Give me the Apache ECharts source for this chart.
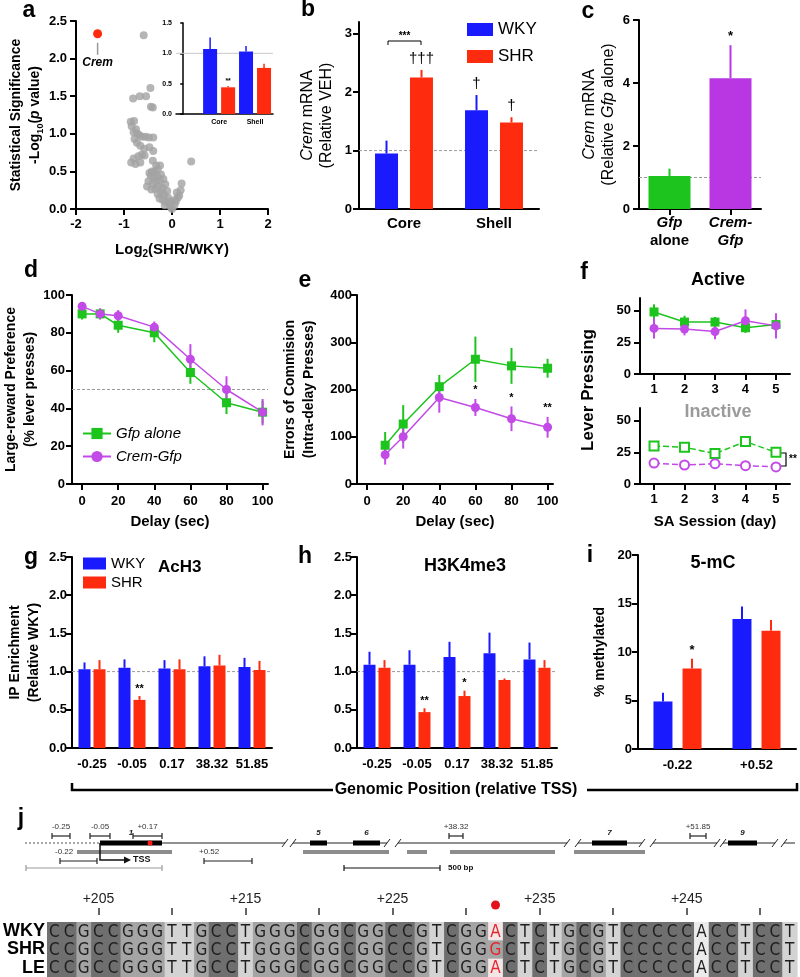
<!DOCTYPE html>
<html>
<head>
<meta charset="utf-8">
<title>Crem figure</title>
<script src="https://cdn.jsdelivr.net/npm/echarts@6.0.0/dist/echarts.min.js"></script>
<style>
  html, body { margin: 0; padding: 0; background: #fff; }
  #chart { width: 800px; height: 977px; }
</style>
</head>
<body>
<div id="chart"></div>
<script>
// ---------- data ----------
// a: volcano plot (log2 fold change, -log10 p)
var volcanoPts = [
  [-0.59,2.31],[-0.45,1.61],[-0.81,1.47],[-0.67,1.50],[-0.54,1.50],[-0.44,1.36],[-0.40,1.35],
  [-0.86,1.16],[-0.79,1.17],[-0.84,1.10],[-0.75,1.06],[-0.80,1.02],[-0.72,1.00],[-0.68,0.98],
  [-0.62,0.96],[-0.55,0.96],[-0.48,0.95],[-0.39,0.95],[-0.78,0.93],[-0.73,0.88],[-0.66,0.84],
  [-0.58,0.80],[-0.47,0.82],[-0.39,0.77],[-0.63,0.72],[-0.57,0.71],[-0.70,0.70],[-0.80,0.67],
  [-0.85,0.62],[-0.76,0.60],[-0.66,0.62],[-0.40,0.64],[0.40,0.63],[-0.33,0.58],[-0.25,0.58],
  [-0.30,0.53],[-0.36,0.50],[-0.42,0.50],[-0.47,0.48],[-0.44,0.44],[-0.38,0.42],[-0.31,0.44],
  [-0.23,0.46],[-0.18,0.40],[-0.26,0.38],[-0.33,0.36],[-0.40,0.34],[-0.49,0.37],[-0.52,0.30],
  [-0.43,0.26],[-0.35,0.27],[-0.28,0.30],[-0.20,0.28],[-0.14,0.33],[-0.22,0.22],[-0.30,0.20],
  [-0.16,0.19],[-0.10,0.24],[-0.08,0.15],[-0.19,0.12],[-0.26,0.14],[-0.12,0.09],[-0.05,0.06],
  [-0.15,0.05],[-0.02,0.02],[0.00,0.00],[0.05,0.05],[0.08,0.10],[0.12,0.15],[0.10,0.22],
  [0.18,0.25],[0.20,0.34],[0.15,0.18],[0.06,0.12],[-0.04,0.10]
];
var cremPt = [-1.55, 2.33];
var insetCats = ['Core', 'Shell'];
var insetWky = [1.07, 1.03], insetWkyErr = [0.19, 0.09];
var insetShr = [0.44, 0.76], insetShrErr = [0.02, 0.07];
var insetShrMarks = ['**', ''];

// b
var regionCats = ['Core', 'Shell'];
var bWky = [0.95, 1.69], bWkyErr = [0.22, 0.26], bWkyMarks = ['', '\u2020'];
var bShr = [2.25, 1.48], bShrErr = [0.13, 0.09], bShrMarks = ['\u2020\u2020\u2020', '\u2020'];

// c
var cCats = ['Gfp alone', 'Crem-Gfp'];
var cVals = [1.05, 4.15], cErr = [0.23, 1.05], cMarks = ['', '*'];

// d
var delayD = [0, 10, 20, 40, 60, 80, 100];
var dGfp = [90, 90, 84, 80, 59, 43, 38], dGfpErr = [3, 2, 4, 5, 6, 6, 6];
var dCrem = [94, 90, 89, 83, 66, 50, 38], dCremErr = [2, 3, 3, 3, 8, 7, 7];

// e
var delayE = [10, 20, 40, 60, 80, 100];
var eGfp = [82, 127, 206, 264, 250, 245], eGfpErr = [28, 40, 25, 48, 38, 20];
var eCrem = [62, 100, 183, 162, 138, 120], eCremErr = [21, 25, 32, 18, 26, 22];
var eMarks = ['', '', '', '*', '*', '**'];

// f
var sessions = [1, 2, 3, 4, 5];
var fActGfp = [49, 41, 41, 36.5, 39], fActGfpErr = [6, 5, 4, 4, 6];
var fActCrem = [36, 35.5, 33.5, 42, 38], fActCremErr = [8, 5, 6, 9, 10];
var fInGfp = [30, 29, 24, 33.5, 25], fInGfpErr = [2, 2, 2, 2, 3];
var fInCrem = [16.5, 15, 16, 14.5, 13.5], fInCremErr = [1.5, 1.5, 1.5, 1.5, 1.5];

// g, h: ChIP
var posCats = ['-0.25', '-0.05', '0.17', '38.32', '51.85'];
var gWky = [1.03, 1.05, 1.04, 1.07, 1.06], gWkyErr = [0.09, 0.11, 0.11, 0.13, 0.12];
var gShr = [1.03, 0.63, 1.03, 1.08, 1.02], gShrErr = [0.12, 0.05, 0.13, 0.14, 0.12];
var gShrMarks = ['', '**', '', '', ''];
var hWky = [1.09, 1.09, 1.19, 1.24, 1.16], hWkyErr = [0.17, 0.19, 0.2, 0.27, 0.22];
var hShr = [1.05, 0.47, 0.68, 0.89, 1.05], hShrErr = [0.1, 0.05, 0.07, 0.02, 0.1];
var hShrMarks = ['', '**', '*', '', ''];

// i: methylation
var mePos = ['-0.22', '+0.52'];
var iWky = [4.9, 13.4], iWkyErr = [0.9, 1.3];
var iShr = [8.3, 12.2], iShrErr = [1.0, 1.1], iShrMarks = ['*', ''];

// j: gene map (schematic units) and sequence alignment
var upstreamSpan = [[25, 100]];
var intronSpans = [[100, 285], [293, 387], [398, 567], [578, 642], [653, 717], [723, 775], [784, 795]];
var breakMarks = [[285, 293], [387, 398], [567, 578], [642, 653], [717, 723], [775, 784]];
var exonSpans = [[100, 162], [310, 327], [353, 380], [592, 627], [728, 757]];
var exonNames = ['1', '5', '6', '7', '9'];
var ampUp = [[52, 70], [90, 110], [133, 162], [449, 463], [690, 706]];
var ampUpNames = ['-0.25', '-0.05', '+0.17', '+38.32', '+51.85'];
var ampDown = [[60, 97], [204, 252]];
var ampDownNames = ['-0.22', '+0.52'];
var grayBars = [[77, 172], [303, 389], [407, 427], [450, 555], [574, 645]];
var snpMark = [[150, 0]];
var tssMark = [[100, 0]];
var spanLine = [[26, 162]];
var scaleBar = [[344, 440]];

var seqNames = ['WKY', 'SHR', 'LE'];
var seqRows = [
  'CCGCCGGGTTGCCTGGGCGGCGGCCGTCGGACTCTGCGTCCCCCACCTCCT',
  'CCGCCGGGTTGCCTGGGCGGCGGCCGTCGGGCTCTGCGTCCCCCACCTCCT',
  'CCGCCGGGTTGCCTGGGCGGCGGCCGTCGGACTCTGCGTCCCCCACCTCCT'
];
var seqStart = 202, snpIndex = 30;

// ---------- styles ----------
var FONT = '"Liberation Sans", Arial, sans-serif';
var NARROW = '"Liberation Sans Narrow", "DejaVu Sans Condensed", sans-serif';
var BLUE = '#1a1aff', RED = '#ff2b0f', GREEN = '#1dc41d', PURPLE = '#c24ae6', BARPURPLE = '#b936e3';
var AX = { show: true, onZero: false, lineStyle: { color: '#000', width: 2 } };

function idx(a) { return a.map(function (v, i) { return i; }); }
function pairs(xs, ys) { return xs.map(function (x, i) { return [x, ys[i]]; }); }

function nameStyle(size, weight) {
  return {
    color: '#000', fontWeight: weight, fontSize: size, fontFamily: FONT, lineHeight: 19,
    rich: {
      i: { fontStyle: 'italic', fontWeight: weight, fontSize: size, fontFamily: FONT, color: '#000', lineHeight: 19 },
      s: { fontWeight: weight, fontSize: Math.round(size * 0.65), fontFamily: FONT, color: '#000', lineHeight: 12, verticalAlign: 'bottom' }
    }
  };
}

function vAxis(o) {
  var ax = {
    type: 'value', gridIndex: o.grid, min: o.min, max: o.max,
    axisLine: AX, splitLine: { show: false },
    axisTick: { show: true, length: 6, lineStyle: { color: '#000', width: 2 } },
    axisLabel: { color: '#000', fontWeight: 'bold', fontSize: 13, fontFamily: FONT, margin: o.margin }
  };
  if (o.interval != null) ax.interval = o.interval;
  if (o.fmt) ax.axisLabel.formatter = o.fmt;
  if (o.custom) { ax.axisLabel.customValues = o.custom; ax.axisTick.customValues = o.custom; }
  if (o.name) { ax.name = o.name; ax.nameLocation = 'middle'; ax.nameGap = o.gap; ax.nameTextStyle = o.ns; }
  return ax;
}

function cAxis(o) {
  var ax = {
    type: 'category', gridIndex: o.grid, data: o.data, axisLine: AX,
    axisTick: { show: !!o.ticks, alignWithLabel: true, length: 6, lineStyle: { color: '#000', width: 2 } },
    axisLabel: { color: '#000', fontWeight: 'bold', fontSize: o.size || 13, fontFamily: FONT, margin: o.margin, interval: 0 }
  };
  if (o.fmt) ax.axisLabel.formatter = o.fmt;
  if (o.rich) ax.axisLabel.rich = o.rich;
  return ax;
}

function fixed1(v) { return v.toFixed(1); }

// error bars (+ optional significance marks) through the axis scales
function errBars(ax, xs, vals, errs, color, dx, both, marks, markFont, markGap) {
  return {
    type: 'custom', xAxisIndex: ax, yAxisIndex: ax, z: 4, silent: true,
    data: vals.map(function (v, i) { return [xs[i], v, errs[i]]; }),
    renderItem: function (p, api) {
      var x = api.value(0), v = api.value(1), e = api.value(2);
      var mid = api.coord([x, v]), top = api.coord([x, v + e]), bot = api.coord([x, both ? v - e : v]);
      var cx = mid[0] + dx;
      var kids = [{ type: 'line', shape: { x1: cx, y1: top[1], x2: cx, y2: bot[1] }, style: { stroke: color, lineWidth: 2 } }];
      var m = marks && marks[p.dataIndex];
      if (m) {
        kids.push({ type: 'text', style: { text: m, x: cx, y: top[1] - (markGap == null ? 3 : markGap), align: 'center', verticalAlign: 'bottom', font: markFont || ('bold 11px ' + FONT), fill: '#000' } });
      }
      return { type: 'group', children: kids };
    }
  };
}

function refLine(ax, xref, val, color, dashed, z) {
  return {
    type: 'custom', xAxisIndex: ax, yAxisIndex: ax, z: z || 1, silent: true, data: [[xref, val]],
    renderItem: function (p, api) {
      var y = api.coord([api.value(0), api.value(1)])[1], cs = p.coordSys;
      return { type: 'line', shape: { x1: cs.x, y1: y, x2: cs.x + cs.width, y2: y }, style: { stroke: color, lineWidth: 1, lineDash: dashed ? [3, 2] : null } };
    }
  };
}

function insetBars(vals, errs, color, dx, marks) {
  return {
    type: 'custom', xAxisIndex: 1, yAxisIndex: 1, z: 3, silent: true,
    data: vals.map(function (v, i) { return [i + 1, v, errs[i]]; }),
    renderItem: function (p, api) {
      var x = api.value(0), v = api.value(1), e = api.value(2);
      var base = api.coord([x, 0]), top = api.coord([x, v]), et = api.coord([x, v + e]);
      var w = 14, cx = base[0] + dx;
      var kids = [
        { type: 'rect', shape: { x: cx - w / 2, y: top[1], width: w, height: base[1] - top[1] }, style: { fill: color } },
        { type: 'line', shape: { x1: cx, y1: top[1], x2: cx, y2: et[1] }, style: { stroke: color, lineWidth: 1.5 } }
      ];
      var m = marks && marks[p.dataIndex];
      if (m) kids.push({ type: 'text', style: { text: m, x: cx, y: et[1] - 2, align: 'center', verticalAlign: 'bottom', font: 'bold 7px ' + FONT, fill: '#000' } });
      return { type: 'group', children: kids };
    }
  };
}

function lineSeries(name, ax, xs, ys, color, symbol, dashed) {
  return {
    type: 'line', name: name, xAxisIndex: ax, yAxisIndex: ax, data: pairs(xs, ys), z: 5,
    symbol: symbol, symbolSize: 9,
    itemStyle: { color: color, borderColor: color, borderWidth: dashed ? 1.8 : 0 },
    lineStyle: { color: color, width: 1.5, type: dashed ? 'dashed' : 'solid' }
  };
}

function barSeries(name, ax, vals, color, width, gap) {
  return { type: 'bar', name: name, xAxisIndex: ax, yAxisIndex: ax, data: vals, barWidth: width, barGap: gap, itemStyle: { color: color }, z: 3 };
}

// ---------- gene map helpers ----------
var Y_LINE = 43, Y_AMP = 36, Y_AMPLBL = 27, Y_GRAY = 52, Y_DOWN = 61, Y_DOWNLBL = 52, Y_TSS = 60, Y_SCALE = 68;
function diag(data, draw) {
  return {
    type: 'custom', xAxisIndex: 12, yAxisIndex: 12, silent: true, z: 3, data: data,
    renderItem: function (p, api) { return draw(api, api.value(0), api.value(1), p.dataIndex); }
  };
}
function pt(api, x, y) { return api.coord([x, y]); }
function seg(api, x0, y0, x1, y1, style) {
  var a = pt(api, x0, y0), b = pt(api, x1, y1);
  return { type: 'line', shape: { x1: a[0], y1: a[1], x2: b[0], y2: b[1] }, style: style };
}
function bracket(api, x0, x1, y, color) {
  var st = { stroke: color, lineWidth: 1.2 };
  return [seg(api, x0, y, x1, y, st), seg(api, x0, y - 3, x0, y + 3, st), seg(api, x1, y - 3, x1, y + 3, st)];
}
function txt(api, s, x, y, font, align, fill) {
  var c = pt(api, x, y);
  return { type: 'text', style: { text: s, x: c[0], y: c[1], font: font, align: align || 'center', verticalAlign: 'middle', fill: fill || '#333' } };
}

var seqPos = seqRows[0].split('').map(function (b, i) { return '+' + (seqStart + i); });
var seqCells = [];
seqRows.forEach(function (row, yi) { for (var xi = 0; xi < row.length; xi++) seqCells.push([xi, yi]); });
var baseFill = { C: '#6f6f6f', G: '#a4a4a4', T: '#d3d3d3', A: '#ebebeb' };

// ---------- chart ----------
var chart = echarts.init(document.getElementById('chart'), null, { renderer: 'canvas' });

var G = function (t, x, y, font, fill, align, rot) {
  return { type: 'text', x: x, y: y, rotation: rot || 0, silent: true, style: { text: t, font: font, fill: fill || '#000', align: align || 'center', verticalAlign: 'middle' } };
};
var LET = 'bold 23px ' + FONT, SUB = 'bold 18px ' + FONT;

var option = {
  animation: false,
  backgroundColor: '#fff',
  textStyle: { fontFamily: FONT },
  grid: [
    { left: 76, top: 21, width: 192, height: 188 },   // 0 a
    { left: 176, top: 23, width: 97, height: 91 },    // 1 a inset
    { left: 359, top: 22, width: 180, height: 187 },  // 2 b
    { left: 639, top: 20, width: 122, height: 189 },  // 3 c
    { left: 72, top: 295, width: 196, height: 189 },  // 4 d
    { left: 357, top: 295, width: 196, height: 189 }, // 5 e
    { left: 640, top: 298, width: 150, height: 76 },  // 6 f active
    { left: 640, top: 408, width: 150, height: 76 },  // 7 f inactive
    { left: 72, top: 557, width: 200, height: 191 },  // 8 g
    { left: 357, top: 557, width: 200, height: 191 }, // 9 h
    { left: 638, top: 555, width: 158, height: 194 }, // 10 i
    { left: 44, top: 922, width: 753, height: 55 },   // 11 sequence
    { left: 0, top: 800, width: 800, height: 80 }     // 12 gene map
  ],
  xAxis: [
    vAxis({ grid: 0, min: -2, max: 2, interval: 1, margin: 9, name: 'Log{s|2}(SHR/WKY)', gap: 31, ns: nameStyle(15, 'bold') }),
    { type: 'value', gridIndex: 1, min: -0.2, max: 2.5, splitLine: { show: false },
      axisLine: { show: true, lineStyle: { color: '#000', width: 1.5 } }, axisTick: { show: false },
      axisLabel: { customValues: [1, 2], formatter: function (v) { return insetCats[Math.round(v) - 1]; }, fontSize: 7, fontWeight: 'bold', color: '#000', margin: 5 } },
    cAxis({ grid: 2, data: regionCats, size: 15, margin: 7 }),
    cAxis({ grid: 3, data: cCats, margin: 5, ticks: true,
      fmt: function (v) { return v === 'Gfp alone' ? '{i|Gfp}\n{n|alone}' : '{i|Crem-}\n{i|Gfp}'; },
      rich: { i: { fontStyle: 'italic', fontWeight: 'bold', fontSize: 15, lineHeight: 18, color: '#000', fontFamily: FONT },
              n: { fontWeight: 'bold', fontSize: 15, lineHeight: 18, color: '#000', fontFamily: FONT } } }),
    vAxis({ grid: 4, min: -5.6, max: 103, custom: [0, 20, 40, 60, 80, 100], margin: 11, name: 'Delay (sec)', gap: 28, ns: nameStyle(15, 'bold') }),
    vAxis({ grid: 5, min: -5.6, max: 103, custom: [0, 20, 40, 60, 80, 100], margin: 11, name: 'Delay (sec)', gap: 28, ns: nameStyle(15, 'bold') }),
    vAxis({ grid: 6, min: 0.54, max: 5.46, custom: sessions, margin: 9 }),
    vAxis({ grid: 7, min: 0.54, max: 5.46, custom: sessions, margin: 9, name: 'SA Session (day)', gap: 28, ns: nameStyle(15, 'bold') }),
    cAxis({ grid: 8, data: posCats, margin: 10 }),
    cAxis({ grid: 9, data: posCats, margin: 10 }),
    cAxis({ grid: 10, data: mePos, margin: 10 }),
    { type: 'category', gridIndex: 11, position: 'top', data: seqPos, offset: 7,
      axisLine: { show: false },
      axisTick: { show: true, alignWithLabel: true, length: 7, interval: function (i) { return (i - 3) % 5 === 0; }, lineStyle: { color: '#333', width: 1.5 } },
      axisLabel: { interval: function (i) { return (i - 3) % 10 === 0; }, fontSize: 14, color: '#222', fontFamily: FONT, margin: 9 } },
    { type: 'value', gridIndex: 12, min: 0, max: 800, show: false }
  ],
  yAxis: [
    vAxis({ grid: 0, min: 0, max: 2.5, interval: 0.5, fmt: fixed1, margin: 9, name: 'Statistical Significance\n-Log{s|10}({i|p} value)', gap: 30, ns: nameStyle(14, 'bold') }),
    { type: 'value', gridIndex: 1, min: 0, max: 1.5, interval: 0.5, splitLine: { show: false },
      axisLine: { show: true, lineStyle: { color: '#000', width: 1.5 } },
      axisTick: { show: true, length: 3, lineStyle: { color: '#000', width: 1.5 } },
      axisLabel: { formatter: fixed1, fontSize: 7, fontWeight: 'bold', color: '#000', margin: 4 } },
    vAxis({ grid: 2, min: 0, max: 3.2, custom: [0, 1, 2, 3], margin: 7, name: '{i|Crem} mRNA\n(Relative VEH)', gap: 23, ns: nameStyle(16, 'normal') }),
    vAxis({ grid: 3, min: 0, max: 6, interval: 2, margin: 9, name: '{i|Crem} mRNA\n(Relative {i|Gfp} alone)', gap: 21, ns: nameStyle(16, 'normal') }),
    vAxis({ grid: 4, min: 0, max: 100, interval: 20, margin: 7, name: 'Large-reward Preference\n(% lever presses)', gap: 29, ns: nameStyle(14, 'bold') }),
    vAxis({ grid: 5, min: 0, max: 400, interval: 100, margin: 5, name: 'Errors of Commision\n(Intra-delay Presses)', gap: 38, ns: nameStyle(14, 'bold') }),
    vAxis({ grid: 6, min: 0, max: 60, custom: [0, 25, 50], margin: 9 }),
    vAxis({ grid: 7, min: 0, max: 60, custom: [0, 25, 50], margin: 9 }),
    vAxis({ grid: 8, min: 0, max: 2.5, interval: 0.5, fmt: fixed1, margin: 5, name: 'IP Enrichment\n(Relative WKY)', gap: 28, ns: nameStyle(14, 'bold') }),
    vAxis({ grid: 9, min: 0, max: 2.5, interval: 0.5, fmt: fixed1, margin: 5 }),
    vAxis({ grid: 10, min: 0, max: 20, interval: 5, margin: 6, name: '% methylated', gap: 28, ns: nameStyle(14, 'bold') }),
    { type: 'category', gridIndex: 11, data: seqNames, inverse: true,
      axisLine: { show: false }, axisTick: { show: false },
      axisLabel: { interval: 0, fontSize: 18, fontWeight: 'bold', color: '#000', fontFamily: FONT, margin: 2 } },
    { type: 'value', gridIndex: 12, min: 0, max: 80, inverse: true, show: false }
  ],
  legend: [
    { data: ['WKY', 'SHR'], left: 467, top: 21, orient: 'vertical', icon: 'rect', itemWidth: 26, itemHeight: 13, itemGap: 10, padding: 0, selectedMode: false,
      textStyle: { fontSize: 17, fontFamily: FONT, color: '#000' } },
    { data: ['WKY', 'SHR'], left: 83, top: 556, orient: 'vertical', icon: 'rect', itemWidth: 23, itemHeight: 12, itemGap: 4, padding: 0, selectedMode: false,
      textStyle: { fontSize: 15, fontFamily: FONT, color: '#000' } },
    { data: ['Gfp alone', 'Crem-Gfp'], left: 82, top: 426, orient: 'vertical', itemWidth: 28, itemHeight: 14, itemGap: 8, padding: 0, selectedMode: false,
      textStyle: { fontSize: 15, fontStyle: 'italic', fontFamily: FONT, color: '#000' } }
  ],
  graphic: [
    G('a', 29, 11, LET), G('b', 308, 10, LET), G('c', 588, 12, LET),
    G('d', 31, 271, LET), G('e', 305, 281, LET), G('f', 584, 273, LET),
    G('g', 31, 558, LET), G('h', 305, 557, LET), G('i', 590, 556, LET), G('j', 21, 819, LET),
    G('Active', 718, 280, SUB), G('Inactive', 718, 412, SUB, '#9b9b9b'),
    G('AcH3', 158, 567, 'bold 17px ' + FONT, '#000', 'left'),
    G('H3K4me3', 465, 566, SUB), G('5-mC', 713, 563, SUB),
    G('Lever Pressing', 588, 390, 'bold 17px ' + FONT, '#000', 'center', Math.PI / 2),
    { type: 'polyline', silent: true, shape: { points: [[388, 45], [388, 41], [421, 41], [421, 45]] }, style: { stroke: '#000', fill: null, lineWidth: 1 } },
    G('***', 404.5, 36, 'bold 10px ' + FONT),
    { type: 'polyline', silent: true, shape: { points: [[781, 453], [786, 453], [786, 466], [781, 466]] }, style: { stroke: '#000', fill: null, lineWidth: 1.2 } },
    G('**', 789, 459, 'bold 10px ' + FONT, '#000', 'left'),
    { type: 'polyline', silent: true, shape: { points: [[72, 783], [72, 790], [333, 790]] }, style: { stroke: '#000', fill: null, lineWidth: 2.5 } },
    { type: 'polyline', silent: true, shape: { points: [[587, 790], [797, 790], [797, 783]] }, style: { stroke: '#000', fill: null, lineWidth: 2.5 } },
    G('Genomic Position (relative TSS)', 456, 790, 'bold 16px ' + FONT)
  ],
  series: [
    // a
    { type: 'scatter', xAxisIndex: 0, yAxisIndex: 0, data: volcanoPts, symbolSize: 8, itemStyle: { color: '#a3a3a3' }, z: 2, silent: true },
    { type: 'custom', xAxisIndex: 0, yAxisIndex: 0, data: [cremPt], z: 3, silent: true,
      renderItem: function (p, api) {
        var c = api.coord([api.value(0), api.value(1)]);
        return { type: 'group', children: [
          { type: 'circle', shape: { cx: c[0], cy: c[1], r: 4.5 }, style: { fill: RED } },
          { type: 'line', shape: { x1: c[0], y1: c[1] + 9, x2: c[0], y2: c[1] + 21 }, style: { stroke: '#999', lineWidth: 1.5 } },
          { type: 'text', style: { text: 'Crem', x: c[0], y: c[1] + 29, align: 'center', verticalAlign: 'middle', font: 'italic bold 12px ' + FONT, fill: '#000' } }
        ] };
      } },
    refLine(1, 0, 1, '#c8c8c8', false, 2),
    insetBars(insetWky, insetWkyErr, BLUE, -9),
    insetBars(insetShr, insetShrErr, RED, 9, insetShrMarks),

    // b
    refLine(2, 0, 1, '#9a9a9a', true, 1),
    barSeries('WKY', 2, bWky, BLUE, 23, '52%'),
    barSeries('SHR', 2, bShr, RED, 23, '52%'),
    errBars(2, idx(bWky), bWky, bWkyErr, BLUE, -17.5, false, bWkyMarks, '15px ' + FONT, 4),
    errBars(2, idx(bShr), bShr, bShrErr, RED, 17.5, false, bShrMarks, '15px ' + FONT, 4),

    // c
    refLine(3, 0, 1, '#9a9a9a', true, 1),
    { type: 'bar', xAxisIndex: 3, yAxisIndex: 3, barWidth: 42, z: 3,
      data: cVals.map(function (v, i) { return { value: v, itemStyle: { color: i === 0 ? GREEN : BARPURPLE } }; }) },
    errBars(3, [0], [cVals[0]], [cErr[0]], GREEN, 0, false),
    errBars(3, [1], [cVals[1]], [cErr[1]], BARPURPLE, 0, false, [cMarks[1]], 'bold 13px ' + FONT, 2),

    // d
    refLine(4, 0, 50, '#9a9a9a', true, 1),
    errBars(4, delayD, dGfp, dGfpErr, GREEN, 0, true),
    errBars(4, delayD, dCrem, dCremErr, PURPLE, 0, true),
    lineSeries('Gfp alone', 4, delayD, dGfp, GREEN, 'rect'),
    lineSeries('Crem-Gfp', 4, delayD, dCrem, PURPLE, 'circle'),

    // e
    errBars(5, delayE, eGfp, eGfpErr, GREEN, 0, true),
    errBars(5, delayE, eCrem, eCremErr, PURPLE, 0, true, eMarks, 'bold 11px ' + FONT, 3),
    lineSeries('Gfp alone', 5, delayE, eGfp, GREEN, 'rect'),
    lineSeries('Crem-Gfp', 5, delayE, eCrem, PURPLE, 'circle'),

    // f active
    errBars(6, sessions, fActGfp, fActGfpErr, GREEN, 0, true),
    errBars(6, sessions, fActCrem, fActCremErr, PURPLE, 0, true),
    lineSeries('Gfp alone', 6, sessions, fActGfp, GREEN, 'rect'),
    lineSeries('Crem-Gfp', 6, sessions, fActCrem, PURPLE, 'circle'),
    // f inactive
    errBars(7, sessions, fInGfp, fInGfpErr, GREEN, 0, true),
    errBars(7, sessions, fInCrem, fInCremErr, PURPLE, 0, true),
    lineSeries('Gfp alone', 7, sessions, fInGfp, GREEN, 'emptyRect', true),
    lineSeries('Crem-Gfp', 7, sessions, fInCrem, PURPLE, 'emptyCircle', true),

    // g
    refLine(8, 0, 1, '#9a9a9a', true, 1),
    barSeries('WKY', 8, gWky, BLUE, 12, '25%'),
    barSeries('SHR', 8, gShr, RED, 12, '25%'),
    errBars(8, idx(gWky), gWky, gWkyErr, BLUE, -7.5, false),
    errBars(8, idx(gShr), gShr, gShrErr, RED, 7.5, false, gShrMarks, 'bold 11px ' + FONT, 2),

    // h
    refLine(9, 0, 1, '#9a9a9a', true, 1),
    barSeries('WKY', 9, hWky, BLUE, 12, '25%'),
    barSeries('SHR', 9, hShr, RED, 12, '25%'),
    errBars(9, idx(hWky), hWky, hWkyErr, BLUE, -7.5, false),
    errBars(9, idx(hShr), hShr, hShrErr, RED, 7.5, false, hShrMarks, 'bold 11px ' + FONT, 2),

    // i
    barSeries('WKY', 10, iWky, BLUE, 19, '53%'),
    barSeries('SHR', 10, iShr, RED, 19, '53%'),
    errBars(10, idx(iWky), iWky, iWkyErr, BLUE, -14.5, false),
    errBars(10, idx(iShr), iShr, iShrErr, RED, 14.5, false, iShrMarks, 'bold 13px ' + FONT, 2),

    // j: sequence alignment
    { type: 'custom', xAxisIndex: 11, yAxisIndex: 11, data: seqCells, silent: true, z: 3,
      renderItem: function (p, api) {
        var xi = api.value(0), yi = api.value(1);
        var c = api.coord([xi, yi]), sz = api.size([1, 1]);
        var base = seqRows[yi].charAt(xi), snp = xi === snpIndex;
        var fill = snp && base === 'A' ? '#f4e6e6' : baseFill[base];
        var kids = [
          { type: 'rect', shape: { x: c[0] - sz[0] / 2, y: c[1] - sz[1] / 2, width: sz[0] + 0.6, height: sz[1] + 0.6 }, style: { fill: fill } },
          { type: 'text', style: { text: base, x: c[0], y: c[1] + 1, align: 'center', verticalAlign: 'middle', font: '17px ' + NARROW, fill: snp ? '#e3262b' : '#1e1e1e' } }
        ];
        if (snp && yi === 0) kids.push({ type: 'circle', shape: { cx: c[0], cy: c[1] - sz[1] / 2 - 17, r: 4.5 }, style: { fill: '#e3131b' } });
        return { type: 'group', children: kids };
      } },

    // j: gene map
    diag(upstreamSpan, function (api, x0, x1) { return seg(api, x0, Y_LINE, x1, Y_LINE, { stroke: '#555', lineWidth: 1, lineDash: [2, 2] }); }),
    diag(intronSpans, function (api, x0, x1) { return seg(api, x0, Y_LINE, x1, Y_LINE, { stroke: '#222', lineWidth: 1 }); }),
    diag(breakMarks, function (api, x0, x1) {
      var st = { stroke: '#222', lineWidth: 1 };
      return { type: 'group', children: [seg(api, x0 - 3, Y_LINE + 4, x0 + 3, Y_LINE - 4, st), seg(api, x1 - 3, Y_LINE + 4, x1 + 3, Y_LINE - 4, st)] };
    }),
    diag(grayBars, function (api, x0, x1) {
      var a = pt(api, x0, Y_GRAY - 2), b = pt(api, x1, Y_GRAY + 2);
      return { type: 'rect', shape: { x: a[0], y: a[1], width: b[0] - a[0], height: b[1] - a[1] }, style: { fill: '#8c8c8c' } };
    }),
    diag(exonSpans, function (api, x0, x1, i) {
      var a = pt(api, x0, Y_LINE - 2.5), b = pt(api, x1, Y_LINE + 2.5);
      return { type: 'group', children: [
        { type: 'rect', shape: { x: a[0], y: a[1], width: b[0] - a[0], height: b[1] - a[1] }, style: { fill: '#000' } },
        txt(api, exonNames[i], (x0 + x1) / 2, Y_LINE - 10, 'italic bold 8px ' + FONT, 'center', '#222')
      ] };
    }),
    diag(snpMark, function (api, x) { var c = pt(api, x, Y_LINE); return { type: 'circle', shape: { cx: c[0], cy: c[1], r: 2.5 }, style: { fill: '#ff1a1a' } }; }),
    diag(ampUp, function (api, x0, x1, i) {
      return { type: 'group', children: bracket(api, x0, x1, Y_AMP, '#222').concat([txt(api, ampUpNames[i], (x0 + x1) / 2, Y_AMPLBL, '8px ' + FONT)]) };
    }),
    diag(ampDown, function (api, x0, x1, i) {
      return { type: 'group', children: bracket(api, x0, x1, Y_DOWN, '#222').concat([txt(api, ampDownNames[i], x0 - 5, Y_DOWNLBL, '8px ' + FONT, 'left')]) };
    }),
    diag(tssMark, function (api, x) {
      var a = pt(api, x, Y_LINE), b = pt(api, x, Y_TSS), e = pt(api, x + 24, Y_TSS), tip = pt(api, x + 31, Y_TSS);
      return { type: 'group', children: [
        { type: 'polyline', shape: { points: [a, b, e] }, style: { stroke: '#111', fill: null, lineWidth: 1.5 } },
        { type: 'polygon', shape: { points: [[e[0], e[1] - 3.5], [tip[0], tip[1]], [e[0], e[1] + 3.5]] }, style: { fill: '#111' } },
        txt(api, 'TSS', x + 33, Y_TSS, 'bold 9px ' + FONT, 'left', '#111')
      ] };
    }),
    diag(spanLine, function (api, x0, x1) { return { type: 'group', children: bracket(api, x0, x1, Y_SCALE, '#999') }; }),
    diag(scaleBar, function (api, x0, x1) {
      return { type: 'group', children: bracket(api, x0, x1, Y_SCALE, '#111').concat([txt(api, '500 bp', x1 + 8, Y_SCALE, 'bold 8px ' + FONT, 'left', '#111')]) };
    })
  ]
};

chart.setOption(option);
</script>
</body>
</html>
